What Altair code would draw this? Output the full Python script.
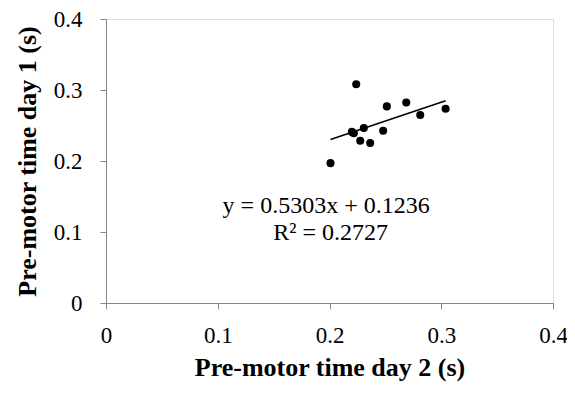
import altair as alt
import pandas as pd

day2 = [0.2239, 0.2009, 0.2200, 0.2218, 0.2307, 0.2275, 0.2364, 0.2513, 0.2480, 0.2687, 0.2812, 0.3039]
day1 = [0.3080, 0.1970, 0.2410, 0.2390, 0.2465, 0.2286, 0.2254, 0.2769, 0.2427, 0.2825, 0.2648, 0.2737]
slope = 0.5303
intercept = 0.1236
eq_lines = ["y = 0.5303x + 0.1236", "R² = 0.2727"]
eq_x = [0.197, 0.201]
eq_y = [0.136, 0.098]

pts = pd.DataFrame({"x": day2, "y": day1})
xmin, xmax = min(day2), max(day2)
fit = pd.DataFrame({"x": [xmin, xmax], "y": [slope * xmin + intercept, slope * xmax + intercept]})
eq = pd.DataFrame({"t": eq_lines, "x": eq_x, "y": eq_y})

FONT = "Liberation Serif"
xscale = alt.Scale(domain=[0, 0.4], nice=False)
yscale = alt.Scale(domain=[0, 0.4], nice=False)

xaxis = alt.Axis(title="Pre-motor time day 2 (s)", values=[0, 0.1, 0.2, 0.3, 0.4],
                 labelExpr="datum.value == 0 ? '0' : format(datum.value, '.1f')",
                 grid=False, domainColor="#868686", tickColor="#868686", tickSize=6,
                 labelFont=FONT, labelFontSize=23, labelColor="#000000", labelPadding=15,
                 titleFont=FONT, titleFontSize=26, titleFontWeight="bold", titleColor="#000000",
                 titlePadding=7, labelFlush=False, labelOverlap=False)
yaxis = alt.Axis(title="Pre-motor time day 1 (s)", values=[0, 0.1, 0.2, 0.3, 0.4],
                 labelExpr="datum.value == 0 ? '0' : format(datum.value, '.1f')",
                 grid=False, domainColor="#868686", tickColor="#868686", tickSize=6,
                 labelFont=FONT, labelFontSize=23, labelColor="#000000", labelPadding=18,
                 titleFont=FONT, titleFontSize=26, titleFontWeight="bold", titleColor="#000000",
                 titlePadding=13, labelFlush=False, labelOverlap=False)

points = alt.Chart(pts).mark_circle(size=65, color="#000000", opacity=1).encode(
    x=alt.X("x:Q", scale=xscale, axis=xaxis),
    y=alt.Y("y:Q", scale=yscale, axis=yaxis),
)
line = alt.Chart(fit).mark_line(color="#000000", strokeWidth=1.6).encode(
    x=alt.X("x:Q", scale=xscale), y=alt.Y("y:Q", scale=yscale)
)
text = alt.Chart(eq).mark_text(font=FONT, fontSize=24, color="#000000", align="center", baseline="middle").encode(
    x=alt.X("x:Q", scale=xscale), y=alt.Y("y:Q", scale=yscale), text="t:N"
)

chart = (line + points + text).properties(
    width=447, height=284,
    autosize=alt.AutoSizeParams(type="none"),
    padding={"left": 98, "top": 11, "right": 14, "bottom": 82},
).configure_view(stroke=None).configure(background="#ffffff")

chart.save("out.html", embed_options={"renderer": "svg", "actions": False})
